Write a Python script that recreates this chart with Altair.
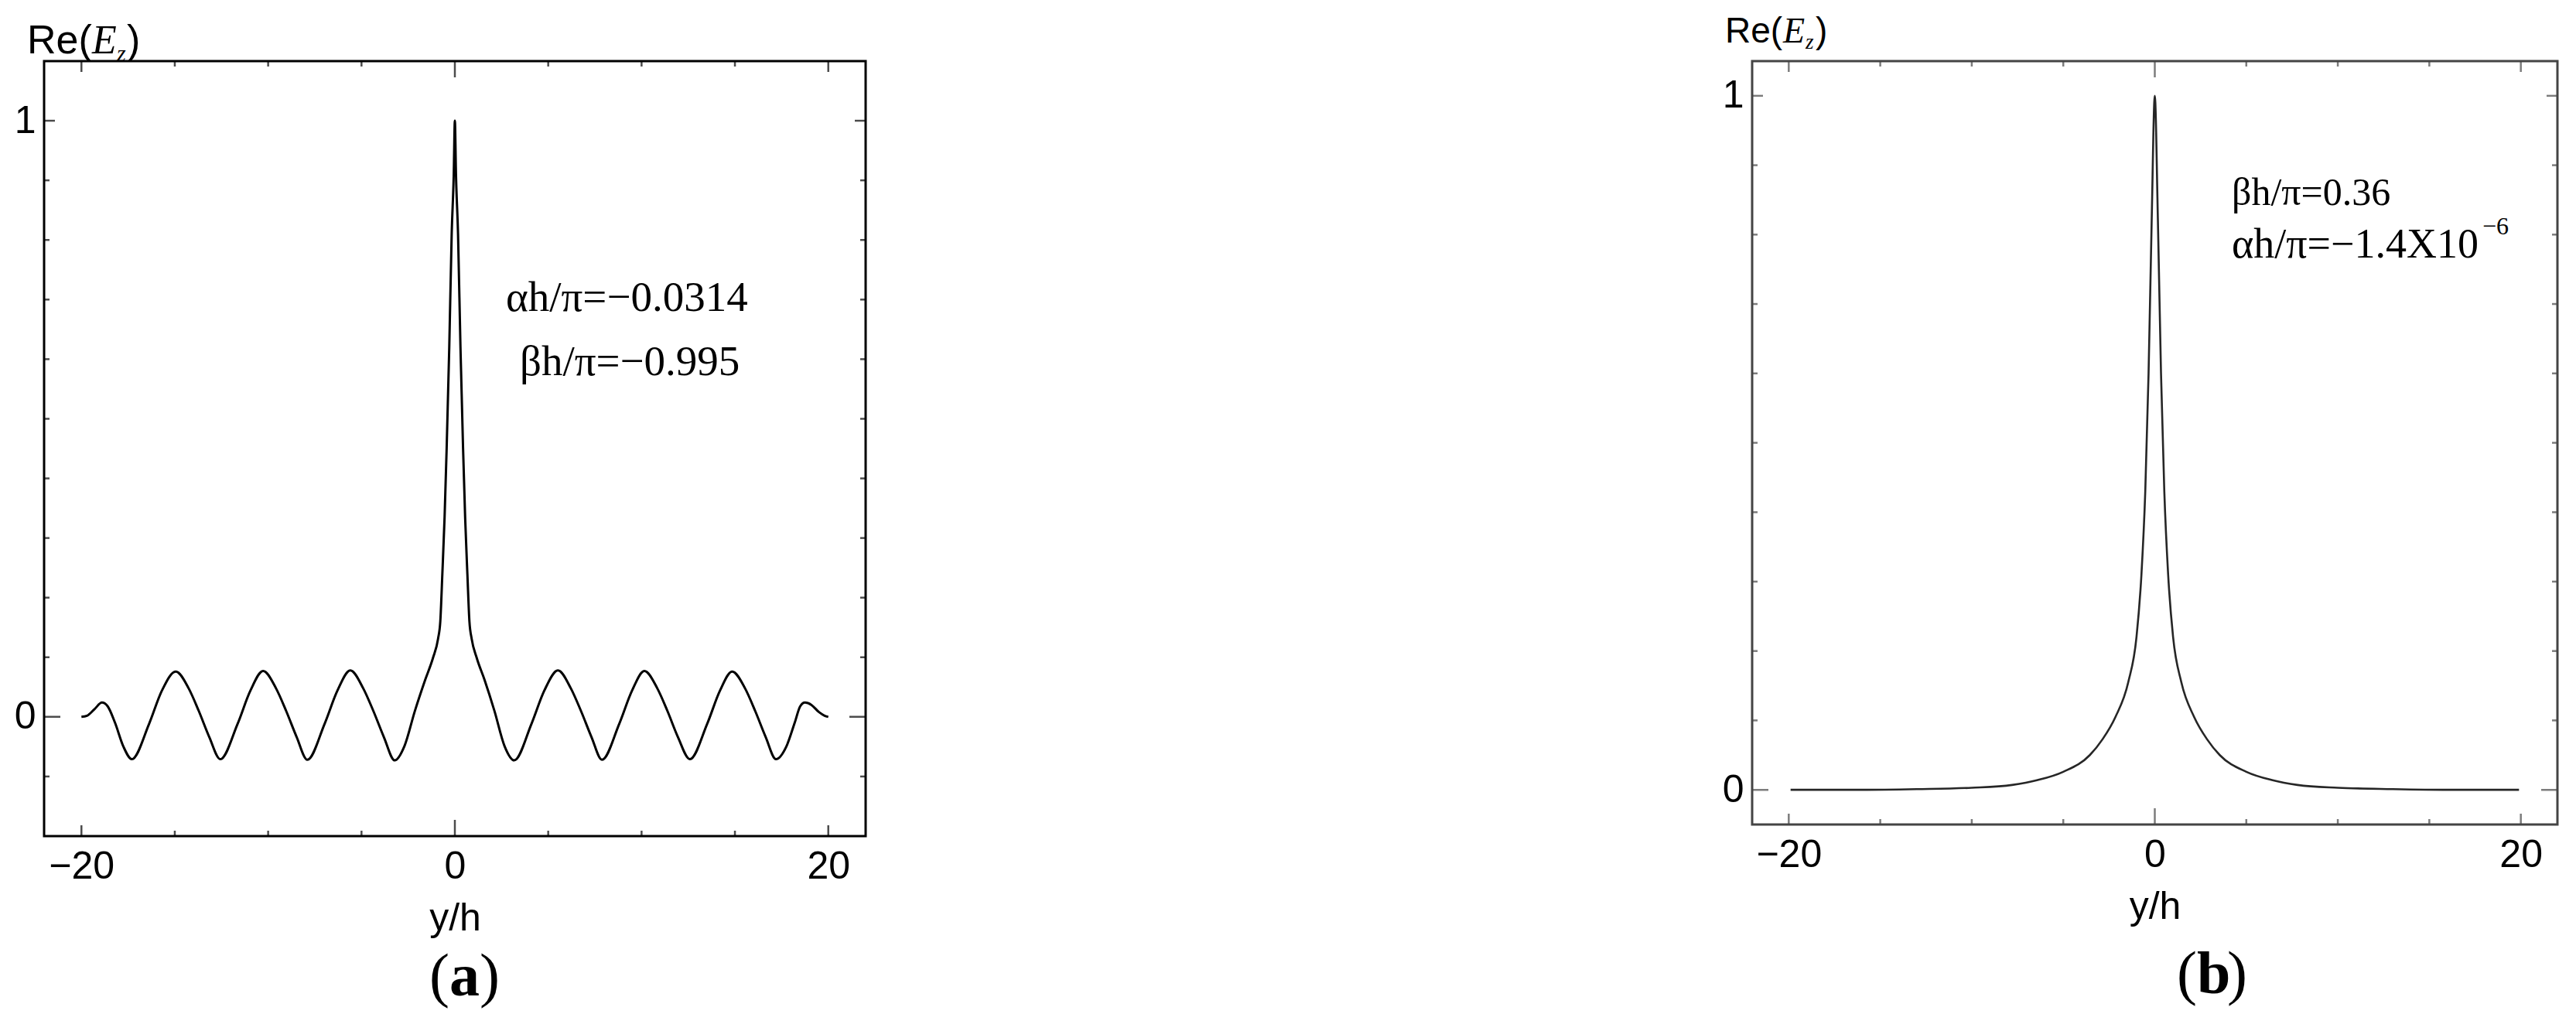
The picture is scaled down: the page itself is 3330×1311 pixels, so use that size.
import altair as alt
import pandas as pd

# ---------------- data ----------------
# panel (a): Re(Ez) vs y/h, alpha h/pi = -0.0314, beta h/pi = -0.995
a_x = [-20.0, -19.7, -19.3, -18.9, -18.6, -18.2, -17.75, -17.3,
       -16.38, -15.69, -14.95, -14.26, -13.71, -13.15, -12.56,
       -11.64, -10.95, -10.27, -9.58, -9.03, -8.47, -7.9,
       -6.98, -6.29, -5.6, -4.91, -4.36, -3.80, -3.22,
       -2.70, -2.14, -1.59, -1.17, -0.90, -0.78, -0.67, -0.55, -0.44, -0.30, -0.17, -0.06,
       0.0,
       0.06, 0.17, 0.30, 0.44, 0.55, 0.67, 0.78, 0.90, 1.17, 1.59, 2.12, 2.66,
       3.18, 4.10, 4.79, 5.52, 6.21, 6.76, 7.32, 7.88,
       8.80, 9.49, 10.15, 10.84, 11.39, 11.95, 12.59,
       13.51, 14.20, 14.85, 15.54, 16.09, 16.65, 17.2,
       17.75, 18.2, 18.5, 18.75, 19.1, 19.5, 19.8, 20.0]
a_y = [0.0, 0.002, 0.013, 0.024, 0.018, -0.010, -0.050, -0.071,
       -0.012, 0.044, 0.076, 0.048, 0.0095, -0.034, -0.071,
       -0.012, 0.044, 0.077, 0.048, 0.0095, -0.034, -0.072,
       -0.012, 0.044, 0.078, 0.048, 0.0095, -0.034, -0.073,
       -0.049, 0.010, 0.062, 0.099, 0.131, 0.16, 0.24, 0.335, 0.45, 0.62, 0.81, 0.91,
       1.0,
       0.91, 0.81, 0.62, 0.45, 0.335, 0.24, 0.16, 0.131, 0.099, 0.062, 0.010, -0.049,
       -0.073, -0.012, 0.044, 0.078, 0.048, 0.0095, -0.034, -0.072,
       -0.012, 0.044, 0.077, 0.048, 0.0095, -0.034, -0.071,
       -0.012, 0.044, 0.076, 0.048, 0.0095, -0.034, -0.071,
       -0.050, -0.010, 0.018, 0.024, 0.020, 0.008, 0.002, 0.0]

# panel (b): beta h/pi = 0.36, alpha h/pi = -1.4e-6
b_x = [-19.9, -16.0, -13.0, -10.0, -7.8, -6.4, -5.0, -3.55, -2.85, -2.15, -1.45,
       -1.0, -0.73, -0.52, -0.34, -0.17, 0.0,
       0.17, 0.34, 0.52, 0.73, 1.0, 1.45, 2.15, 2.85, 3.55, 5.0, 6.4, 7.8,
       10.0, 13.0, 16.0, 19.9]
b_y = [0.0, 0.0, 0.001, 0.003, 0.007, 0.014, 0.026, 0.050, 0.073, 0.105, 0.155,
       0.22, 0.31, 0.43, 0.60, 0.82, 1.0,
       0.82, 0.60, 0.43, 0.31, 0.22, 0.155, 0.105, 0.073, 0.050, 0.026, 0.014, 0.007,
       0.003, 0.001, 0.0, 0.0]

x_ticks_major = [-20, 0, 20]
x_ticks_minor = [-15, -10, -5, 5, 10, 15]
a_y_ticks_major = [0, 1]
a_y_ticks_minor = [-0.1, 0.1, 0.2, 0.3, 0.4, 0.5, 0.6, 0.7, 0.8, 0.9]
b_y_ticks_major = [0, 1]
b_y_ticks_minor = [0.1, 0.2, 0.3, 0.4, 0.5, 0.6, 0.7, 0.8, 0.9]

SANS = "Liberation Sans"
SERIF = "Liberation Serif"


def tick_len(v, major):
    if v == 0:
        return 21
    return 14 if v in major else 7


def text_layer(txt, px, py, size, font=SANS, style="normal", weight="normal",
               color="black", align="left"):
    return alt.Chart(pd.DataFrame({"t": [txt]})).mark_text(
        font=font, fontSize=size, fontStyle=style, fontWeight=weight,
        align=align, baseline="alphabetic", color=color,
    ).encode(text="t:N", x=alt.value(px), y=alt.value(py))


def panel(xs, ys, ydom, ymaj, ymin, W, H, line_color, frame_color, line_w, texts):
    xsc = alt.Scale(domain=[-22, 22], nice=False, zero=False)
    ysc = alt.Scale(domain=ydom, nice=False, zero=False)
    xaxis = alt.Axis(
        values=x_ticks_major, format="d", title="y/h", ticks=False, domain=False,
        grid=False, labelFont=SANS, labelFontSize=50, labelColor="black",
        labelPadding=14, titleFont=SANS, titleFontSize=50,
        titleFontWeight="normal", titleColor="black", titlePadding=17)
    yaxis = alt.Axis(
        values=ymaj, format="d", title=None, ticks=False, domain=False,
        grid=False, labelFont=SANS, labelFontSize=50, labelColor="black",
        labelPadding=11)
    df = pd.DataFrame({"x": xs, "y": ys})
    line = alt.Chart(df).mark_line(
        color=line_color, strokeWidth=line_w, interpolate="monotone", clip=True
    ).encode(
        x=alt.X("x:Q", scale=xsc, axis=xaxis, title="y/h"),
        y=alt.Y("y:Q", scale=ysc, axis=yaxis, title=None),
    )
    xt = list(x_ticks_major) + list(x_ticks_minor)
    xdf = pd.DataFrame({"x": xt, "s": [2 * tick_len(v, x_ticks_major) for v in xt]})
    yt = list(ymaj) + list(ymin)
    ydf = pd.DataFrame({"y": yt, "s": [2 * tick_len(v, ymaj) for v in yt]})
    layers = [line]
    for ypix in (0, H):
        layers.append(alt.Chart(xdf).mark_tick(color=frame_color, thickness=2.5, clip=True).encode(
            x=alt.X("x:Q", scale=xsc, axis=xaxis, title="y/h"), y=alt.value(ypix),
            size=alt.Size("s:Q", scale=None, legend=None)))
    for xpix in (0, W):
        layers.append(alt.Chart(ydf).mark_tick(color=frame_color, thickness=2.5, clip=True).encode(
            y=alt.Y("y:Q", scale=ysc, axis=yaxis, title=None), x=alt.value(xpix),
            size=alt.Size("s:Q", scale=None, legend=None)))
    layers += texts
    return alt.layer(*layers).properties(
        width=W, height=H,
        view=alt.ViewBackground(stroke=frame_color, strokeWidth=3))


A_W, A_H = 1062, 1002
B_W, B_H = 1041, 987

texts_a = [
    text_layer("Re(", -22, -10, 52),
    text_layer("E", 62, -10, 52, font=SERIF, style="italic"),
    text_layer("z", 94, 0, 30, font=SERIF, style="italic"),
    text_layer(")", 107, -10, 52),
    text_layer("\u03b1h/\u03c0=\u22120.0314", 597, 323, 55, font=SERIF),
    text_layer("\u03b2h/\u03c0=\u22120.995", 615, 406, 55, font=SERIF),
    text_layer("(", 498, 1208, 78, font=SERIF),
    text_layer("a", 524, 1208, 78, font=SERIF, weight="bold"),
    text_layer(")", 563, 1208, 78, font=SERIF),
]
texts_b = [
    text_layer("Re(", -35, -24, 46),
    text_layer("E", 40, -24, 46, font=SERIF, style="italic"),
    text_layer("z", 69, -16, 27, font=SERIF, style="italic"),
    text_layer(")", 82, -24, 46),
    text_layer("\u03b2h/\u03c0=0.36", 620, 186, 50, font=SERIF),
    text_layer("\u03b1h/\u03c0=\u22121.4X10", 620, 254, 54, font=SERIF),
    text_layer("\u22126", 944, 224, 32, font=SERIF),
    text_layer("(", 549, 1205, 78, font=SERIF),
    text_layer("b", 575, 1205, 78, font=SERIF, weight="bold"),
    text_layer(")", 614, 1205, 78, font=SERIF),
]

pa = panel(a_x, a_y, [-0.2, 1.1], a_y_ticks_major, a_y_ticks_minor, A_W, A_H,
           "black", "black", 3.0, texts_a)
pb = panel(b_x, b_y, [-0.05, 1.05], b_y_ticks_major, b_y_ticks_minor, B_W, B_H,
           "#262626", "#444444", 2.6, texts_b)

chart = alt.hconcat(pa, pb, spacing=1146, bounds="flush").properties(
    padding={"left": 8, "top": 8, "right": 5, "bottom": 5},
    background="white",
)

chart.save("out.html", embed_options={"renderer": "svg", "actions": False})
